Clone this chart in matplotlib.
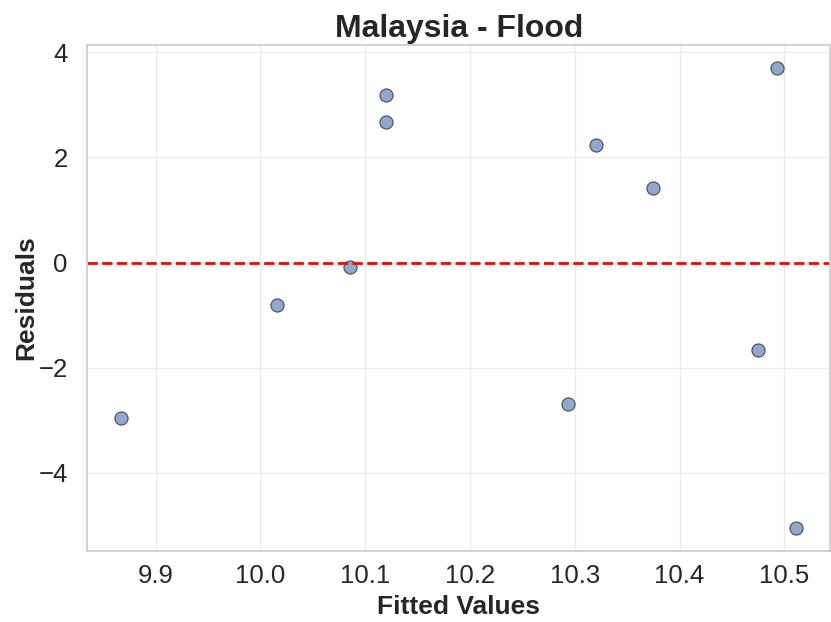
import matplotlib
matplotlib.use("Agg")
import matplotlib.pyplot as plt
import seaborn as sns

# fitted values and residuals of the flood model
fitted = [9.8671, 10.0155, 10.0856, 10.1195, 10.1195, 10.2933,
          10.3202, 10.3748, 10.4750, 10.4930, 10.5114]
residuals = [-2.964, -0.806, -0.088, 3.194, 2.667, -2.697,
             2.242, 1.417, -1.663, 3.703, -5.048]

sns.set_theme(style="whitegrid")
plt.rcParams["font.family"] = ["Liberation Sans", "DejaVu Sans"]

fig = plt.figure(figsize=(8.31, 6.22), dpi=100)
ax = fig.add_axes([87.3 / 831, 71.3 / 622, (830 - 87.3) / 831, (550.7 - 45) / 622])

sns.scatterplot(x=fitted, y=residuals, ax=ax, s=90, alpha=0.62,
                edgecolor="black", linewidth=0.8)
ax.axhline(0, color="red", linestyle="--", linewidth=2)

ax.set_title("Malaysia - Flood", fontsize=23, fontweight="bold", pad=6)
ax.set_xlabel("Fitted Values", fontsize=19, fontweight="bold", labelpad=5)
ax.set_ylabel("Residuals", fontsize=19, fontweight="bold", labelpad=0)
ax.tick_params(labelsize=18.5)
ax.tick_params(axis="y", pad=8)
ax.grid(color="#ebebeb")

fig.savefig("out.png", dpi=100)
